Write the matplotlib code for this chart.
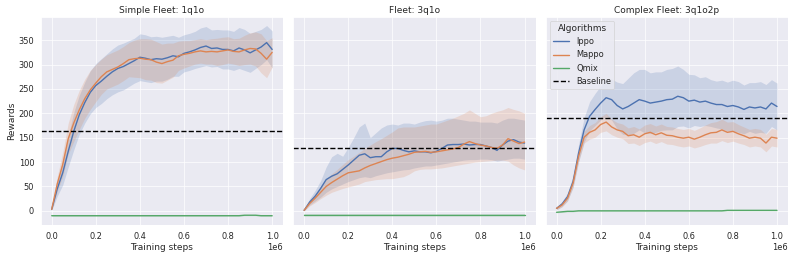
import numpy as np
import matplotlib
matplotlib.use("Agg")
import matplotlib.pyplot as plt
import seaborn as sns
from matplotlib.lines import Line2D

# INPUT DATA
steps = np.arange(0, 1_000_001, 25_000)
titles = ["Simple Fleet: 1q1o", "Fleet: 3q1o", "Complex Fleet: 3q1o2p"]
algos = ["Ippo", "Mappo", "Qmix"]
baselines = [164, 129, 191]

# Simple Fleet: 1q1o  (mean and band half-width)
ippo_1 = [3, 45, 78, 122, 163, 197, 222, 243, 257, 266, 276, 285, 292, 296, 302, 308, 315, 313, 310, 312, 311,
          314, 318, 316, 323, 326, 330, 335, 338, 333, 334, 331, 331, 328, 334, 330, 324, 330, 336, 345, 331]
ippo_1_sd = [2, 15, 25, 32, 38, 40, 42, 44, 45, 46, 46, 47, 48, 48, 47, 46, 48, 48, 47, 46, 45,
             44, 42, 40, 38, 38, 38, 40, 40, 38, 38, 40, 40, 40, 42, 42, 40, 38, 36, 35, 38]
mappo_1 = [3, 55, 95, 148, 180, 207, 230, 248, 262, 275, 285, 290, 295, 302, 310, 312, 313, 311, 310, 305, 302,
           306, 309, 318, 321, 323, 326, 328, 326, 327, 326, 328, 330, 327, 326, 330, 333, 332, 323, 311, 325]
mappo_1_sd = [2, 15, 25, 32, 38, 40, 40, 40, 38, 36, 35, 35, 35, 35, 35, 38, 40, 42, 42, 42, 40,
              38, 35, 30, 28, 26, 25, 25, 25, 26, 28, 28, 27, 26, 28, 30, 32, 35, 40, 38, 30]
qmix_1 = [-10, -10, -10, -10, -10, -10, -10, -10, -10, -10, -10, -10, -10, -10, -10, -10, -10, -10, -10, -10, -10,
          -10, -10, -10, -10, -10, -10, -10, -10, -10, -10, -10, -10, -10, -10, -9, -9, -9, -10, -10, -10]

# Fleet: 3q1o  (mean, band low, band high)
ippo_2 = [1, 18, 30, 46, 64, 71, 76, 85, 94, 104, 114, 117, 109, 111, 111, 121, 128, 128, 124, 121, 123,
          121, 121, 119, 122, 128, 135, 136, 136, 137, 135, 136, 136, 133, 130, 124, 135, 143, 146, 141, 139]
ippo_2_lo = [0, 12, 20, 28, 38, 45, 50, 55, 60, 64, 68, 70, 68, 72, 75, 78, 80, 82, 84, 85, 88,
             90, 92, 92, 94, 96, 98, 100, 102, 104, 105, 105, 106, 106, 105, 102, 104, 106, 108, 108, 106]
ippo_2_hi = [2, 25, 42, 62, 90, 111, 118, 112, 130, 150, 172, 180, 150, 160, 170, 176, 178, 176, 180, 180, 178,
             182, 185, 186, 184, 186, 190, 190, 188, 186, 184, 184, 182, 182, 182, 180, 186, 190, 190, 188, 186]
mappo_2 = [1, 15, 26, 38, 50, 58, 65, 72, 78, 80, 82, 88, 93, 97, 101, 105, 108, 110, 113, 116, 120,
           121, 122, 120, 121, 123, 125, 127, 130, 137, 142, 138, 135, 133, 130, 128, 135, 148, 143, 138, 141]
mappo_2_lo = [0, 10, 17, 25, 32, 38, 42, 46, 49, 52, 55, 60, 62, 64, 65, 66, 66, 68, 70, 75, 82,
              85, 86, 86, 87, 88, 90, 92, 94, 96, 98, 100, 101, 102, 103, 104, 104, 102, 94, 88, 84]
mappo_2_hi = [2, 20, 35, 50, 65, 76, 85, 95, 105, 112, 120, 128, 135, 142, 148, 155, 162, 170, 172, 172, 172,
              174, 176, 178, 178, 182, 186, 190, 195, 200, 207, 200, 193, 195, 200, 204, 207, 212, 208, 205, 200]
qmix_2 = [-8, -8, -8, -8, -8, -8, -8, -8, -8, -8, -8, -8, -8, -8, -8, -8, -8, -8, -8, -8, -8,
          -8, -8, -8, -8, -8, -8, -8, -8, -8, -8, -8, -8, -8, -8, -8, -8, -8, -8, -8, -8]

# Complex Fleet: 3q1o2p  (mean and band half-width)
ippo_3 = [5, 14, 29, 60, 118, 166, 194, 208, 221, 232, 228, 216, 209, 214, 221, 228, 225, 221, 223, 225, 228,
          229, 235, 232, 225, 227, 223, 225, 221, 218, 218, 214, 216, 213, 208, 213, 211, 213, 209, 221, 214]
ippo_3_sd = [3, 5, 8, 12, 18, 25, 30, 33, 35, 38, 42, 48, 52, 58, 62, 62, 65, 62, 62, 60, 62,
             63, 62, 58, 55, 52, 50, 50, 48, 48, 50, 50, 52, 52, 50, 50, 52, 52, 50, 48, 48]
mappo_3 = [5, 12, 26, 57, 112, 151, 161, 166, 177, 182, 172, 166, 163, 154, 156, 151, 158, 161, 156, 160, 155,
           154, 151, 149, 151, 147, 151, 156, 160, 161, 166, 161, 163, 158, 154, 149, 151, 149, 139, 151, 149]
mappo_3_sd = [3, 4, 6, 8, 10, 12, 14, 15, 16, 18, 16, 15, 15, 16, 17, 17, 18, 18, 18, 18, 18,
              18, 18, 18, 18, 18, 19, 20, 21, 22, 22, 21, 20, 19, 18, 18, 18, 18, 18, 18, 18]
qmix_3 = [-3, -2, -1, -1, 0, 0, 0, 0, 0, 0, 0, 0, 0, 0, 0, 0, 0, 0, 0, 0, 0,
          0, 0, 0, 0, 0, 0, 0, 0, 0, 0, 1, 1, 1, 1, 1, 1, 1, 1, 1, 1]


def band(mean, sd):
    mean = np.array(mean, dtype=float)
    sd = np.array(sd, dtype=float)
    return mean - sd, mean + sd


panels = [
    [(ippo_1, band(ippo_1, ippo_1_sd)), (mappo_1, band(mappo_1, mappo_1_sd)), (qmix_1, band(qmix_1, [1] * 41))],
    [(ippo_2, (ippo_2_lo, ippo_2_hi)), (mappo_2, (mappo_2_lo, mappo_2_hi)), (qmix_2, band(qmix_2, [1] * 41))],
    [(ippo_3, band(ippo_3, ippo_3_sd)), (mappo_3, band(mappo_3, mappo_3_sd)), (qmix_3, band(qmix_3, [1] * 41))],
]

#####################################################################

sns.set_theme(font_scale=1.08)
colors = sns.color_palette("deep")

fig, axes = plt.subplots(1, 3, figsize=(15.86, 5.16), dpi=50, sharey=True)
fig.subplots_adjust(left=0.0513, right=0.9937, top=0.935, bottom=0.128, wspace=0.041)

for i, ax in enumerate(axes):
    for j, (mean, (lo, hi)) in enumerate(panels[i]):
        ax.fill_between(steps, lo, hi, color=colors[j], alpha=0.2, linewidth=0)
        ax.plot(steps, mean, color=colors[j], linewidth=2)
    ax.axhline(baselines[i], color="black", linestyle="--", linewidth=2)
    ax.set_title(titles[i])
    ax.set_xlabel("Training steps")
    ax.set_yticks([0, 50, 100, 150, 200, 250, 300, 350])

axes[0].set_ylabel("Rewards")
axes[0].set_ylim(-29, 398)

handles = [Line2D([], [], color=colors[k], linewidth=2) for k in range(3)]
handles.append(Line2D([], [], color="black", linestyle="--", linewidth=2))
axes[2].legend(handles, algos + ["Baseline"], title="Algorithms", loc="upper left")

fig.savefig("out.png", dpi=50)
